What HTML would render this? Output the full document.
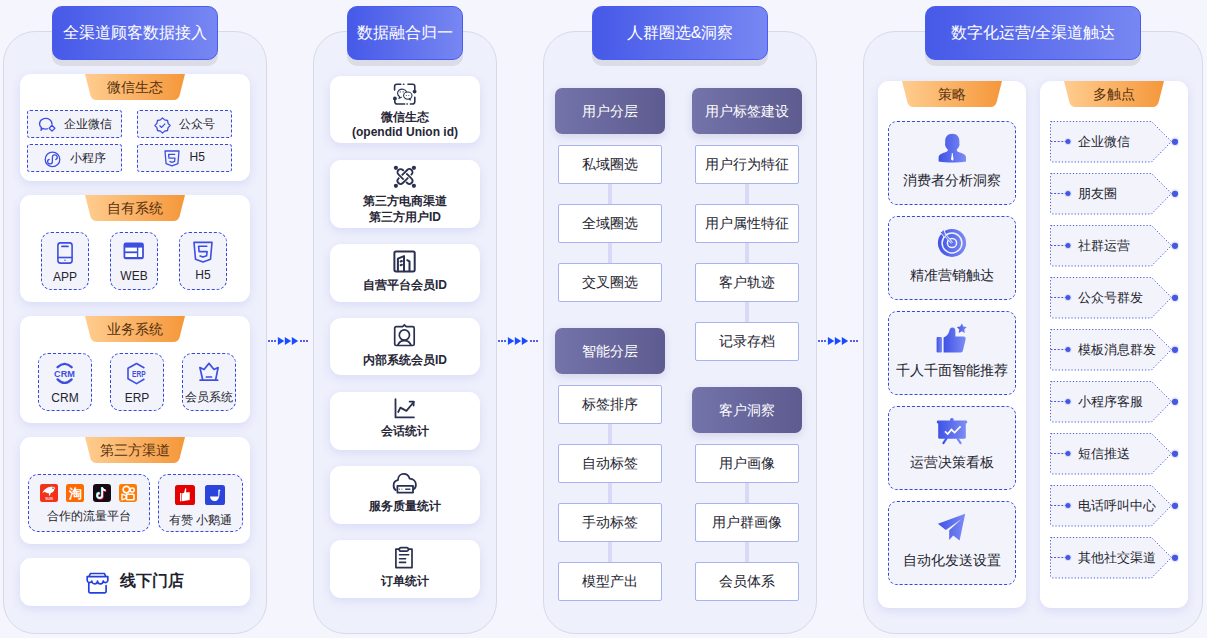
<!DOCTYPE html>
<html><head><meta charset="utf-8">
<style>
*{box-sizing:border-box;margin:0;padding:0}
html,body{width:1207px;height:638px;overflow:hidden;background:#f5f6fd;font-family:"Liberation Sans",sans-serif;color:#24242f}
.a{position:absolute}
.panel{position:absolute;top:31px;height:603px;background:#eef0fc;border:1px solid #d8d9e8;border-radius:32px}
.hdr{position:absolute;top:6px;height:54px;border-radius:10px;background:linear-gradient(90deg,#4659e8,#7787f2);border:1px solid #4a5cf0;box-shadow:0 6px 0 #dcdce7;color:#fff;font-size:16px;line-height:52px;text-align:center;white-space:nowrap}
.card{position:absolute;background:#fff;border-radius:11px;box-shadow:0 3px 10px rgba(190,195,240,.45)}
.tab{position:absolute;top:0;width:100px;height:26px;left:50%;margin-left:-50px}
.tab svg{position:absolute;left:0;top:0}
.tab span{position:absolute;left:0;right:0;top:0;line-height:26px;text-align:center;font-size:14px;color:#55300f}
.dbox{position:absolute;background:#f3f4fb;border:1px dashed #3446e4;border-radius:3px}
.ibox{position:absolute;background:#f3f4fb;border:1px dashed #3446e4;border-radius:10px}
.t12{font-size:12px}
.t13{font-size:13px}
.t14{font-size:14px}
.wb{position:absolute;background:#fff;border:1px solid #a8b3f0;border-radius:2px;height:39px;width:104px;line-height:37px;text-align:center;font-size:14px;color:#24242f}
.pb{position:absolute;height:46px;width:110px;border-radius:7px;background:linear-gradient(90deg,#7473aa,#5d5b8f);color:#fff;font-size:14px;line-height:46px;text-align:center;box-shadow:0 3px 8px rgba(100,100,160,.18)}
.vc{position:absolute;width:4px;background:#d7d9f6}
.c2{position:absolute;left:330px;width:150px;background:#fff;border-radius:11px;box-shadow:0 3px 10px rgba(190,195,240,.45);text-align:center;font-weight:bold;font-size:12px;color:#24242f}
.sbox{position:absolute;left:888px;width:128px;height:84px;background:#f3f4fb;border:1px dashed #3446e4;border-radius:9px;text-align:center;font-size:14px;color:#24242f}
.tag{position:absolute;left:1049px;width:130px;height:42px}
.tag svg{position:absolute;left:0;top:0}
.tag span{position:absolute;left:29px;top:0;line-height:42px;font-size:13px;color:#24242f;white-space:nowrap}
</style></head><body>

<!-- panels -->
<div class="panel" style="left:3px;width:264px"></div>
<div class="panel" style="left:313px;width:184px"></div>
<div class="panel" style="left:543px;width:274px"></div>
<div class="panel" style="left:863px;width:340px"></div>

<!-- headers -->
<div class="hdr" style="left:52px;width:166px">全渠道顾客数据接入</div>
<div class="hdr" style="left:347px;width:116px">数据融合归一</div>
<div class="hdr" style="left:592px;width:176px">人群圈选&amp;洞察</div>
<div class="hdr" style="left:925px;width:216px">数字化运营/全渠道触达</div>


<!-- col1 -->
<div class="card" style="left:20px;top:74px;width:230px;height:107px"><div class="tab"><svg width="100" height="26"><defs><linearGradient id="tg1" x1="0" x2="1"><stop offset="0" stop-color="#ffcd90"/><stop offset="1" stop-color="#f5973a"/></linearGradient></defs><path d="M0,0H100L94.6,21.2Q93.3,26 88.5,26H11.5Q6.7,26 5.4,21.2Z" fill="url(#tg1)"/></svg><span>微信生态</span></div></div>
<div class="card" style="left:20px;top:195px;width:230px;height:107px"><div class="tab"><svg width="100" height="26"><defs><linearGradient id="tg2" x1="0" x2="1"><stop offset="0" stop-color="#ffcd90"/><stop offset="1" stop-color="#f5973a"/></linearGradient></defs><path d="M0,0H100L94.6,21.2Q93.3,26 88.5,26H11.5Q6.7,26 5.4,21.2Z" fill="url(#tg2)"/></svg><span>自有系统</span></div></div>
<div class="card" style="left:20px;top:316px;width:230px;height:107px"><div class="tab"><svg width="100" height="26"><defs><linearGradient id="tg3" x1="0" x2="1"><stop offset="0" stop-color="#ffcd90"/><stop offset="1" stop-color="#f5973a"/></linearGradient></defs><path d="M0,0H100L94.6,21.2Q93.3,26 88.5,26H11.5Q6.7,26 5.4,21.2Z" fill="url(#tg3)"/></svg><span>业务系统</span></div></div>
<div class="card" style="left:20px;top:437px;width:230px;height:107px"><div class="tab"><svg width="100" height="26"><defs><linearGradient id="tg4" x1="0" x2="1"><stop offset="0" stop-color="#ffcd90"/><stop offset="1" stop-color="#f5973a"/></linearGradient></defs><path d="M0,0H100L94.6,21.2Q93.3,26 88.5,26H11.5Q6.7,26 5.4,21.2Z" fill="url(#tg4)"/></svg><span>第三方渠道</span></div></div>
<div class="card" style="left:20px;top:558px;width:230px;height:48px"></div>

<div class="dbox" style="left:27px;top:110px;width:95px;height:28px"></div>
<div class="dbox" style="left:137px;top:110px;width:95px;height:28px"></div>
<div class="dbox" style="left:27px;top:144px;width:95px;height:28px"></div>
<div class="dbox" style="left:137px;top:144px;width:95px;height:28px"></div>
<div class="a t12" style="left:64px;top:115px;line-height:18px">企业微信</div>
<div class="a t12" style="left:179px;top:115px;line-height:18px">公众号</div>
<div class="a t12" style="left:70px;top:149px;line-height:18px">小程序</div>
<div class="a t12" style="left:189.5px;top:148px;line-height:18px">H5</div>

<div class="ibox" style="left:41px;top:232px;width:48px;height:58px"></div>
<div class="ibox" style="left:110px;top:232px;width:48px;height:58px"></div>
<div class="ibox" style="left:179px;top:232px;width:48px;height:58px"></div>
<div class="a t12" style="left:41px;width:48px;top:269px;text-align:center;line-height:16px">APP</div>
<div class="a t12" style="left:110px;width:48px;top:268px;text-align:center;line-height:16px">WEB</div>
<div class="a t12" style="left:179px;width:48px;top:267px;text-align:center;line-height:16px">H5</div>

<div class="ibox" style="left:38px;top:353px;width:54px;height:58px"></div>
<div class="ibox" style="left:110px;top:353px;width:54px;height:58px"></div>
<div class="ibox" style="left:182px;top:353px;width:54px;height:58px"></div>
<div class="a t12" style="left:38px;width:54px;top:390px;text-align:center;line-height:16px">CRM</div>
<div class="a t12" style="left:110px;width:54px;top:390px;text-align:center;line-height:16px">ERP</div>
<div class="a t12" style="left:182px;width:54px;top:389px;text-align:center;line-height:16px">会员系统</div>

<div class="ibox" style="left:28px;top:474px;width:122px;height:58px"></div>
<div class="ibox" style="left:158px;top:474px;width:85px;height:58px"></div>
<div class="a t12" style="left:28px;width:122px;top:508px;text-align:center;line-height:16px">合作的流量平台</div>
<div class="a t12" style="left:158px;width:85px;top:512px;text-align:center;line-height:16px">有赞 小鹅通</div>

<div class="a" style="left:120px;top:570px;font-size:16px;font-weight:bold;line-height:22px;color:#1f1f30">线下门店</div>


<!-- col1 icons -->
<svg class="a" style="left:38px;top:117px" width="19" height="16" viewBox="0 0 19 16" fill="none" stroke="#3d4fe0" stroke-width="1.3" stroke-linejoin="round">
<path d="M13.86,7.67A6.2,5.3 0 1 0 3.37,10.5L3,13.3L4.65,11.34A6.2,5.3 0 0 0 9.87,11.73"/>
<path d="M14,8.3L16.9,11.2L14,14.1L11.1,11.2Z"/></svg>
<svg class="a" style="left:153.5px;top:116.5px" width="17" height="17" viewBox="0 0 17 17" fill="none" stroke="#3d4fe0" stroke-width="1.3" stroke-linejoin="round">
<path d="M8.5,0.9L10.6,2.9L13.5,3.5L14.1,6.4L16.1,8.5L14.1,10.6L13.5,13.5L10.6,14.1L8.5,16.1L6.4,14.1L3.5,13.5L2.9,10.6L0.9,8.5L2.9,6.4L3.5,3.5L6.4,2.9Z"/>
<path d="M5.5,8.6L7.6,10.4L11.2,6.6"/></svg>
<svg class="a" style="left:44px;top:150.5px" width="17" height="17" viewBox="0 0 17 17" fill="none" stroke="#3d4fe0" stroke-width="1.3">
<circle cx="8.5" cy="8.4" r="7.3"/>
<path d="M11.8,8.47A2.4,2.4 0 1 0 8.4,6.3V10.5A2.4,2.4 0 1 1 5.19,8.33" stroke-linecap="round"/></svg>
<svg class="a" style="left:163.5px;top:150px" width="16" height="17" viewBox="0 0 16 17" fill="none" stroke="#3d4fe0" stroke-width="1.3" stroke-linejoin="round">
<path d="M1,1H15L13.9,13.7L8,15.9L2.1,13.7Z"/>
<path d="M11.2,4.3H4.6L5,8.2H11L10.6,11.4L8,12.4L5.4,11.4"/></svg>

<svg class="a" style="left:57px;top:241.5px" width="16" height="22" viewBox="0 0 16 22" fill="none" stroke="#3d4fe0" stroke-width="1.6">
<rect x="0.9" y="0.9" width="14.2" height="20.2" rx="2.6"/>
<path d="M0.9,15.5H15.1"/><path d="M5,4.4H10.9" stroke-width="1.8" stroke-linecap="round"/>
<circle cx="8" cy="18.2" r="0.7" fill="#3d4fe0" stroke="none"/></svg>
<svg class="a" style="left:123px;top:241.5px" width="21" height="18" viewBox="0 0 21 18">
<rect x="0.5" y="0.5" width="20.4" height="16.8" rx="2.4" fill="#3d4fe0"/>
<rect x="2.3" y="5.6" width="11.6" height="3.8" fill="#fff"/>
<rect x="2.3" y="11.2" width="11.6" height="3.8" fill="#fff"/>
<rect x="15.3" y="5.6" width="3.8" height="9.4" fill="#fff"/></svg>
<svg class="a" style="left:192.5px;top:241px" width="20" height="22" viewBox="0 0 20 22" fill="none" stroke="#3d4fe0" stroke-width="1.6" stroke-linejoin="round">
<path d="M1,1.4H19L17.5,18.2L10,21L2.5,18.2Z"/>
<path d="M14.4,5.3H5.6L6.1,10.6H14.1L13.6,14.8L10,16.1L6.5,14.8"/></svg>

<svg class="a" style="left:53px;top:362px" width="24" height="23" viewBox="0 0 24 23">
<path d="M4.6,5.2Q11.6,-1.4 18.6,5.2" fill="none" stroke="#3d4fe0" stroke-width="2.3" stroke-linecap="round"/>
<path d="M4.6,17.4Q11.6,24.4 18.6,17.4" fill="none" stroke="#3d4fe0" stroke-width="2.3" stroke-linecap="round"/>
<text x="11.5" y="15.1" text-anchor="middle" font-family="Liberation Sans" font-weight="bold" font-size="9.5" fill="#3d4fe0" textLength="20.8" lengthAdjust="spacingAndGlyphs">CRM</text></svg>
<svg class="a" style="left:126px;top:362px" width="22" height="23" viewBox="0 0 22 23" fill="none" stroke="#3d4fe0" stroke-width="1.6" stroke-linejoin="round">
<path d="M18.4,6L10.6,1.5L2,6.3V16.8L10.6,21.6L18.4,17"/>
<text x="6" y="15" font-family="Liberation Sans" font-weight="bold" font-size="8.6" fill="#3d4fe0" stroke="none" textLength="13.6" lengthAdjust="spacingAndGlyphs">ERP</text></svg>
<svg class="a" style="left:198px;top:362px" width="22" height="20" viewBox="0 0 22 20" fill="none" stroke="#3d4fe0" stroke-width="1.7" stroke-linejoin="round" stroke-linecap="round">
<path d="M4.6,17.2L1.9,5.6L6,7.5L11,1.4L16,7.5L20.1,5.6L17.8,17.2"/>
<path d="M2.1,18.2H19.7"/><path d="M8.4,15H13.5"/></svg>

<svg class="a" style="left:40px;top:484px" width="18" height="18" viewBox="0 0 18 18">
<rect width="18" height="18" rx="2.2" fill="#f2331a"/>
<path d="M2.4,9C3.4,6.4 6.6,3.4 10.6,2.8C12.8,2.5 14.4,2.8 15.2,3.9L14.4,5C14.2,7.2 12.8,8.6 10.6,9.2L10,11.6H8.8L9.2,9.4C7.2,9.4 5.4,8.6 4.6,7.8C3.6,8.4 3,8.8 2.4,9Z" fill="#fff"/>
<circle cx="13" cy="4.3" r="1" fill="#8a8f98"/>
<text x="9" y="15.6" text-anchor="middle" font-family="Liberation Sans" font-weight="bold" font-size="3.6" fill="#fff" opacity=".85">SUN</text></svg>
<svg class="a" style="left:66px;top:484px" width="18" height="18" viewBox="0 0 18 18">
<rect width="18" height="18" rx="2.6" fill="#ff6a00"/>
<text x="9" y="14.2" text-anchor="middle" font-size="13" font-weight="bold" fill="#fff">淘</text></svg>
<svg class="a" style="left:93px;top:484px" width="18" height="18" viewBox="0 0 18 18">
<rect width="18" height="18" rx="3" fill="#170a15"/>
<path d="M9.2,3.5V11.6A2.5,2.5 0 1 1 6.7,9.1" fill="none" stroke="#ff2b55" stroke-width="1.8" transform="translate(0.6,0.6)"/>
<path d="M9.2,3.5C9.5,5 10.6,6.2 12.6,6.4" fill="none" stroke="#ff2b55" stroke-width="1.8" transform="translate(0.6,0.6)"/>
<path d="M9.2,3.5V11.6A2.5,2.5 0 1 1 6.7,9.1" fill="none" stroke="#25f4ee" stroke-width="1.8" transform="translate(-0.4,-0.4)"/>
<path d="M9.2,3.5V11.6A2.5,2.5 0 1 1 6.7,9.1" fill="none" stroke="#fff" stroke-width="1.6"/>
<path d="M9.2,3.5C9.5,5 10.6,6.2 12.6,6.4" fill="none" stroke="#fff" stroke-width="1.6"/></svg>
<svg class="a" style="left:119px;top:484px" width="18" height="18" viewBox="0 0 18 18">
<rect width="18" height="18" rx="2.4" fill="#ff7a00"/>
<circle cx="7.4" cy="5.6" r="3.3" fill="none" stroke="#fff" stroke-width="1.7"/>
<circle cx="13.2" cy="6" r="2" fill="none" stroke="#fff" stroke-width="1.5"/>
<rect x="7.6" y="10.2" width="7.4" height="5.6" rx="0.8" fill="none" stroke="#fff" stroke-width="1.6"/>
<path d="M7,11.6L3,10.2V15.8L7,14.4Z" fill="none" stroke="#fff" stroke-width="1.4" stroke-linejoin="round"/></svg>

<svg class="a" style="left:175px;top:485px" width="20" height="20" viewBox="0 0 20 20">
<rect width="20" height="20" rx="2.6" fill="#e60000"/>
<path d="M5,8H6.4V16.2H5Z" fill="#fff"/>
<path d="M7,8.4L9.2,7.5L10.1,3.5C10.4,3 11.3,3 11.3,4L11,7.3H14.8L14.7,15.1L7,16.2Z" fill="#fff"/></svg>
<svg class="a" style="left:205px;top:485px" width="20" height="20" viewBox="0 0 20 20">
<rect width="20" height="20" rx="2.6" fill="#2a44dc"/>
<path d="M5,11.4H13.3V5.4C13.3,4.6 14,4 14.9,4.9L15.7,5.8L14.6,5.9C14.6,11 14,16 9.5,16C7,16 5.2,14 5,11.4Z" fill="#fff"/></svg>

<svg class="a" style="left:85.5px;top:572px" width="23" height="22" viewBox="0 0 23 22" fill="none" stroke="#2640e0" stroke-width="1.7" stroke-linejoin="round" stroke-linecap="round">
<path d="M3.2,4.2L4.4,1.5H18.4L19.6,4.2"/>
<path d="M1.2,4.6H21.8V8.6A2.4,2.4 0 0 1 17.2,9A2.4,2.4 0 0 1 11.5,9A2.4,2.4 0 0 1 5.8,9A2.4,2.4 0 0 1 1.2,8.6Z"/>
<path d="M2.8,11.2V19.6A1.2,1.2 0 0 0 4,20.8H18.9A1.2,1.2 0 0 0 20.1,19.6V13.6"/></svg>


<!-- col2 -->
<div class="c2" style="top:76px;height:67px"></div>
<div class="c2" style="top:160px;height:68px"></div>
<div class="c2" style="top:244px;height:58px"></div>
<div class="c2" style="top:318px;height:57px"></div>
<div class="c2" style="top:392px;height:58px"></div>
<div class="c2" style="top:466px;height:58px"></div>
<div class="c2" style="top:540px;height:58px"></div>
<div class="a" style="left:330px;width:150px;top:110px;text-align:center;font-weight:bold;font-size:12px;line-height:14.5px;color:#262636">微信生态<br>(opendid Union id)</div>
<div class="a" style="left:330px;width:150px;top:193px;text-align:center;font-weight:bold;font-size:12px;line-height:16px;color:#262636">第三方电商渠道<br>第三方用户ID</div>
<div class="a" style="left:330px;width:150px;top:277px;text-align:center;font-weight:bold;font-size:12px;line-height:16px;color:#262636">自营平台会员ID</div>
<div class="a" style="left:330px;width:150px;top:352px;text-align:center;font-weight:bold;font-size:12px;line-height:16px;color:#262636">内部系统会员ID</div>
<div class="a" style="left:330px;width:150px;top:423px;text-align:center;font-weight:bold;font-size:12px;line-height:16px;color:#262636">会话统计</div>
<div class="a" style="left:330px;width:150px;top:498px;text-align:center;font-weight:bold;font-size:12px;line-height:16px;color:#262636">服务质量统计</div>
<div class="a" style="left:330px;width:150px;top:573px;text-align:center;font-weight:bold;font-size:12px;line-height:16px;color:#262636">订单统计</div>

<svg class="a" style="left:392px;top:82px" width="26" height="24" viewBox="0 0 26 24" fill="none" stroke="#293050" stroke-width="1.6" stroke-linecap="round">
<path d="M2.6,8V4.4A2.2,2.2 0 0 1 4.8,2.2H8.8"/><path d="M11.5,2.2H11.8"/>
<path d="M16,2.2H20.6A2.2,2.2 0 0 1 22.8,4.4V7.5"/>
<path d="M22.8,15.2V19.8A2.2,2.2 0 0 1 20.6,22H18.4"/><path d="M15,22H15.3"/>
<path d="M12.6,22H5A2.2,2.2 0 0 1 2.8,19.8V17.2"/>
<circle cx="22.6" cy="9.6" r="1.9" fill="#293050" stroke="none"/><circle cx="2.9" cy="16.4" r="1.9" fill="#293050" stroke="none"/>
<path d="M14.4,9.6A4.6,4.1 0 1 0 7.6,14.6L7.1,16.3L9.4,15.3" stroke-width="1.1"/>
<ellipse cx="15.8" cy="13.6" rx="4.2" ry="3.6" stroke-width="1.1"/>
<path d="M17.3,17L18.6,18" stroke-width="1.1"/>
<circle cx="8.2" cy="9.9" r="0.6" fill="#293050" stroke="none"/><circle cx="11.2" cy="9.9" r="0.6" fill="#293050" stroke="none"/>
<circle cx="14.3" cy="13.4" r="0.5" fill="#293050" stroke="none"/><circle cx="16.9" cy="13.4" r="0.5" fill="#293050" stroke="none"/></svg>

<svg class="a" style="left:393px;top:165px" width="24" height="24" viewBox="0 0 24 24" fill="none" stroke="#293050" stroke-width="1.8" stroke-linecap="butt">
<circle cx="2.9" cy="2.8" r="2.1" fill="#293050" stroke="none"/><circle cx="20.9" cy="2.8" r="2.1" fill="#293050" stroke="none"/>
<circle cx="2.9" cy="20.8" r="2.1" fill="#293050" stroke="none"/><circle cx="20.9" cy="20.8" r="2.1" fill="#293050" stroke="none"/>
<path d="M9.8,5L18.6,13.6A3.1,3.1 0 0 1 14.2,18L5.4,9.4A3.1,3.1 0 0 1 9.8,5Z" stroke-dasharray="1.4 3.5 18.4 3.5 17.3 0"/>
<path d="M14.2,5L5.4,13.6A3.1,3.1 0 0 0 9.8,18L18.6,9.4A3.1,3.1 0 0 0 14.2,5Z" stroke-dasharray="7.6 3.5 18.4 3.5 11.1 0"/></svg>

<svg class="a" style="left:393px;top:249.5px" width="23" height="23" viewBox="0 0 23 23" fill="none" stroke="#293050" stroke-width="2" stroke-linejoin="round" stroke-linecap="round">
<rect x="1.4" y="1.4" width="20.3" height="20" rx="1.6"/>
<path d="M4.9,21.2V8.6L11,6.1V21.2"/><path d="M14.2,10.2L16.5,11.4V21.2"/>
<path d="M7.6,11.5L8.9,11"/><path d="M7.6,15.2L8.9,14.7"/></svg>

<svg class="a" style="left:393px;top:324px" width="23" height="23" viewBox="0 0 23 23" fill="none" stroke="#293050" stroke-width="1.7" stroke-linejoin="round">
<path d="M9.6,2.6H3.3A1.6,1.6 0 0 0 1.7,4.2V19.9A1.6,1.6 0 0 0 3.3,21.5H19.6A1.6,1.6 0 0 0 21.2,19.9V4.2A1.6,1.6 0 0 0 19.6,2.6H13.3L11.4,1Z"/>
<circle cx="11.4" cy="11" r="5.1"/><path d="M4.7,21.4C5.8,18.4 8.4,16.6 11.4,16.6C14.4,16.6 17,18.4 18.1,21.4"/></svg>

<svg class="a" style="left:393px;top:397px" width="23" height="23" viewBox="0 0 23 23" fill="none" stroke="#293050" stroke-width="1.8" stroke-linecap="round" stroke-linejoin="round">
<path d="M2.5,2.2V20.4H20.9"/><path d="M5.2,15L7.4,10.6L13.4,13.9L20.8,5"/><path d="M16.6,4.6H20.6V8.6"/></svg>

<svg class="a" style="left:392px;top:472px" width="26" height="23" viewBox="0 0 26 23" fill="none" stroke="#293050" stroke-width="1.8" stroke-linejoin="round">
<path d="M4.4,18.3C2.3,17.5 1.6,15.4 1.6,13.4C1.6,10.5 3.4,8.5 5.9,8.1C6.1,4.3 8.5,1.9 11.6,1.9C14.6,1.9 16.8,3.8 17.6,6.6C21.2,6.8 23.9,9.4 23.9,12.8C23.9,14.8 23,16.6 21.4,17.6"/>
<rect x="5.4" y="13.8" width="15.6" height="6.8" fill="#fff"/>
<path d="M7.2,17.2H7.8M9.6,17.2H10.2" stroke-width="1.4"/><path d="M13.2,17.2H18.4" stroke-width="1.4"/></svg>

<svg class="a" style="left:394px;top:546px" width="20" height="24" viewBox="0 0 20 24" fill="none" stroke="#293050" stroke-width="1.7" stroke-linejoin="round" stroke-linecap="round">
<path d="M5,3.2H1.9V21.6H18V3.2H14.7"/><rect x="5.3" y="1.6" width="9.1" height="3.6" rx="1.8"/>
<path d="M5.5,8.8H14.7M5.5,12.7H11.6M5.5,16.4H11.6" stroke-width="1.6"/></svg>


<!-- col3 -->
<div class="vc" style="left:608px;top:183px;height:22px"></div>
<div class="vc" style="left:608px;top:242px;height:22px"></div>
<div class="vc" style="left:608px;top:423px;height:22px"></div>
<div class="vc" style="left:608px;top:482px;height:22px"></div>
<div class="vc" style="left:608px;top:541px;height:22px"></div>
<div class="vc" style="left:745px;top:183px;height:22px"></div>
<div class="vc" style="left:745px;top:242px;height:22px"></div>
<div class="vc" style="left:745px;top:301px;height:22px"></div>
<div class="vc" style="left:745px;top:482px;height:22px"></div>
<div class="vc" style="left:745px;top:541px;height:22px"></div>

<div class="pb" style="left:555px;top:88px">用户分层</div>
<div class="pb" style="left:692px;top:88px">用户标签建设</div>
<div class="pb" style="left:555px;top:328px">智能分层</div>
<div class="pb" style="left:692px;top:387px">客户洞察</div>

<div class="wb" style="left:558px;top:145px">私域圈选</div>
<div class="wb" style="left:558px;top:204px">全域圈选</div>
<div class="wb" style="left:558px;top:263px">交叉圈选</div>
<div class="wb" style="left:558px;top:385px">标签排序</div>
<div class="wb" style="left:558px;top:444px">自动标签</div>
<div class="wb" style="left:558px;top:503px">手动标签</div>
<div class="wb" style="left:558px;top:562px">模型产出</div>
<div class="wb" style="left:695px;top:145px">用户行为特征</div>
<div class="wb" style="left:695px;top:204px">用户属性特征</div>
<div class="wb" style="left:695px;top:263px">客户轨迹</div>
<div class="wb" style="left:695px;top:322px">记录存档</div>
<div class="wb" style="left:695px;top:444px">用户画像</div>
<div class="wb" style="left:695px;top:503px">用户群画像</div>
<div class="wb" style="left:695px;top:562px">会员体系</div>

<!-- arrows -->
<svg class="a" style="left:266px;top:336px" width="46" height="10" viewBox="0 0 46 10">
<g fill="#5a5fe8"><rect x="2" y="4" width="2" height="2"/><rect x="5" y="4" width="2" height="2"/><rect x="8" y="4" width="2" height="2"/>
<rect x="34" y="4" width="2" height="2"/><rect x="37" y="4" width="2" height="2"/><rect x="40" y="4" width="2" height="2"/></g>
<g fill="#1a4cff"><path d="M11.9,1.1L18.3,5L11.9,8.9Z"/><path d="M18.8,1.1L25.2,5L18.8,8.9Z"/><path d="M25.8,1.1L32.2,5L25.8,8.9Z"/></g></svg>
<svg class="a" style="left:496px;top:336px" width="46" height="10" viewBox="0 0 46 10">
<g fill="#5a5fe8"><rect x="2" y="4" width="2" height="2"/><rect x="5" y="4" width="2" height="2"/><rect x="8" y="4" width="2" height="2"/>
<rect x="34" y="4" width="2" height="2"/><rect x="37" y="4" width="2" height="2"/><rect x="40" y="4" width="2" height="2"/></g>
<g fill="#1a4cff"><path d="M11.9,1.1L18.3,5L11.9,8.9Z"/><path d="M18.8,1.1L25.2,5L18.8,8.9Z"/><path d="M25.8,1.1L32.2,5L25.8,8.9Z"/></g></svg>
<svg class="a" style="left:816px;top:336px" width="46" height="10" viewBox="0 0 46 10">
<g fill="#5a5fe8"><rect x="2" y="4" width="2" height="2"/><rect x="5" y="4" width="2" height="2"/><rect x="8" y="4" width="2" height="2"/>
<rect x="34" y="4" width="2" height="2"/><rect x="37" y="4" width="2" height="2"/><rect x="40" y="4" width="2" height="2"/></g>
<g fill="#1a4cff"><path d="M11.9,1.1L18.3,5L11.9,8.9Z"/><path d="M18.8,1.1L25.2,5L18.8,8.9Z"/><path d="M25.8,1.1L32.2,5L25.8,8.9Z"/></g></svg>


<!-- col4 -->
<div class="card" style="left:878px;top:81px;width:148px;height:527px"><div class="tab"><svg width="100" height="26"><defs><linearGradient id="tg5" x1="0" x2="1"><stop offset="0" stop-color="#ffcd90"/><stop offset="1" stop-color="#f5973a"/></linearGradient></defs><path d="M0,0H100L94.6,21.2Q93.3,26 88.5,26H11.5Q6.7,26 5.4,21.2Z" fill="url(#tg5)"/></svg><span>策略</span></div></div>
<div class="card" style="left:1040px;top:81px;width:148px;height:527px"><div class="tab"><svg width="100" height="26"><defs><linearGradient id="tg6" x1="0" x2="1"><stop offset="0" stop-color="#ffcd90"/><stop offset="1" stop-color="#f5973a"/></linearGradient></defs><path d="M0,0H100L94.6,21.2Q93.3,26 88.5,26H11.5Q6.7,26 5.4,21.2Z" fill="url(#tg6)"/></svg><span>多触点</span></div></div>
<div class="sbox" style="top:121px"><div style="position:absolute;left:0;right:0;top:50px;line-height:16px">消费者分析洞察</div></div>
<div class="sbox" style="top:216px"><div style="position:absolute;left:0;right:0;top:50px;line-height:16px">精准营销触达</div></div>
<div class="sbox" style="top:311px"><div style="position:absolute;left:0;right:0;top:50px;line-height:16px">千人千面智能推荐</div></div>
<div class="sbox" style="top:406px"><div style="position:absolute;left:0;right:0;top:47px;line-height:16px">运营决策看板</div></div>
<div class="sbox" style="top:501px"><div style="position:absolute;left:0;right:0;top:50px;line-height:16px">自动化发送设置</div></div>
<div class="tag" style="top:121px"><svg width="130" height="42" viewBox="0 0 130 42"><path d="M1.5,0.5H102.5L122.5,20.5L102.5,41H3.5A2,2 0 0 1 1.5,39V2.5A2,2 0 0 1 3.5,0.5Z" fill="#f3f4fb" stroke="#4558e0" stroke-width="1" stroke-dasharray="1.2 2"/>
<path d="M1.5,20.5H17" stroke="#4558e0" stroke-width="1" stroke-dasharray="2 1.6"/>
<circle cx="19" cy="20.5" r="3.6" fill="#4558e0" opacity=".15"/><circle cx="19" cy="20.5" r="2.5" fill="#4558e0"/>
<circle cx="126" cy="20.8" r="4.8" fill="#4558e0" opacity=".12"/><circle cx="126" cy="20.8" r="3.1" fill="#4558e0"/></svg><span>企业微信</span></div>
<div class="tag" style="top:173px"><svg width="130" height="42" viewBox="0 0 130 42"><path d="M1.5,0.5H102.5L122.5,20.5L102.5,41H3.5A2,2 0 0 1 1.5,39V2.5A2,2 0 0 1 3.5,0.5Z" fill="#f3f4fb" stroke="#4558e0" stroke-width="1" stroke-dasharray="1.2 2"/>
<path d="M1.5,20.5H17" stroke="#4558e0" stroke-width="1" stroke-dasharray="2 1.6"/>
<circle cx="19" cy="20.5" r="3.6" fill="#4558e0" opacity=".15"/><circle cx="19" cy="20.5" r="2.5" fill="#4558e0"/>
<circle cx="126" cy="20.8" r="4.8" fill="#4558e0" opacity=".12"/><circle cx="126" cy="20.8" r="3.1" fill="#4558e0"/></svg><span>朋友圈</span></div>
<div class="tag" style="top:225px"><svg width="130" height="42" viewBox="0 0 130 42"><path d="M1.5,0.5H102.5L122.5,20.5L102.5,41H3.5A2,2 0 0 1 1.5,39V2.5A2,2 0 0 1 3.5,0.5Z" fill="#f3f4fb" stroke="#4558e0" stroke-width="1" stroke-dasharray="1.2 2"/>
<path d="M1.5,20.5H17" stroke="#4558e0" stroke-width="1" stroke-dasharray="2 1.6"/>
<circle cx="19" cy="20.5" r="3.6" fill="#4558e0" opacity=".15"/><circle cx="19" cy="20.5" r="2.5" fill="#4558e0"/>
<circle cx="126" cy="20.8" r="4.8" fill="#4558e0" opacity=".12"/><circle cx="126" cy="20.8" r="3.1" fill="#4558e0"/></svg><span>社群运营</span></div>
<div class="tag" style="top:277px"><svg width="130" height="42" viewBox="0 0 130 42"><path d="M1.5,0.5H102.5L122.5,20.5L102.5,41H3.5A2,2 0 0 1 1.5,39V2.5A2,2 0 0 1 3.5,0.5Z" fill="#f3f4fb" stroke="#4558e0" stroke-width="1" stroke-dasharray="1.2 2"/>
<path d="M1.5,20.5H17" stroke="#4558e0" stroke-width="1" stroke-dasharray="2 1.6"/>
<circle cx="19" cy="20.5" r="3.6" fill="#4558e0" opacity=".15"/><circle cx="19" cy="20.5" r="2.5" fill="#4558e0"/>
<circle cx="126" cy="20.8" r="4.8" fill="#4558e0" opacity=".12"/><circle cx="126" cy="20.8" r="3.1" fill="#4558e0"/></svg><span>公众号群发</span></div>
<div class="tag" style="top:329px"><svg width="130" height="42" viewBox="0 0 130 42"><path d="M1.5,0.5H102.5L122.5,20.5L102.5,41H3.5A2,2 0 0 1 1.5,39V2.5A2,2 0 0 1 3.5,0.5Z" fill="#f3f4fb" stroke="#4558e0" stroke-width="1" stroke-dasharray="1.2 2"/>
<path d="M1.5,20.5H17" stroke="#4558e0" stroke-width="1" stroke-dasharray="2 1.6"/>
<circle cx="19" cy="20.5" r="3.6" fill="#4558e0" opacity=".15"/><circle cx="19" cy="20.5" r="2.5" fill="#4558e0"/>
<circle cx="126" cy="20.8" r="4.8" fill="#4558e0" opacity=".12"/><circle cx="126" cy="20.8" r="3.1" fill="#4558e0"/></svg><span>模板消息群发</span></div>
<div class="tag" style="top:381px"><svg width="130" height="42" viewBox="0 0 130 42"><path d="M1.5,0.5H102.5L122.5,20.5L102.5,41H3.5A2,2 0 0 1 1.5,39V2.5A2,2 0 0 1 3.5,0.5Z" fill="#f3f4fb" stroke="#4558e0" stroke-width="1" stroke-dasharray="1.2 2"/>
<path d="M1.5,20.5H17" stroke="#4558e0" stroke-width="1" stroke-dasharray="2 1.6"/>
<circle cx="19" cy="20.5" r="3.6" fill="#4558e0" opacity=".15"/><circle cx="19" cy="20.5" r="2.5" fill="#4558e0"/>
<circle cx="126" cy="20.8" r="4.8" fill="#4558e0" opacity=".12"/><circle cx="126" cy="20.8" r="3.1" fill="#4558e0"/></svg><span>小程序客服</span></div>
<div class="tag" style="top:433px"><svg width="130" height="42" viewBox="0 0 130 42"><path d="M1.5,0.5H102.5L122.5,20.5L102.5,41H3.5A2,2 0 0 1 1.5,39V2.5A2,2 0 0 1 3.5,0.5Z" fill="#f3f4fb" stroke="#4558e0" stroke-width="1" stroke-dasharray="1.2 2"/>
<path d="M1.5,20.5H17" stroke="#4558e0" stroke-width="1" stroke-dasharray="2 1.6"/>
<circle cx="19" cy="20.5" r="3.6" fill="#4558e0" opacity=".15"/><circle cx="19" cy="20.5" r="2.5" fill="#4558e0"/>
<circle cx="126" cy="20.8" r="4.8" fill="#4558e0" opacity=".12"/><circle cx="126" cy="20.8" r="3.1" fill="#4558e0"/></svg><span>短信推送</span></div>
<div class="tag" style="top:485px"><svg width="130" height="42" viewBox="0 0 130 42"><path d="M1.5,0.5H102.5L122.5,20.5L102.5,41H3.5A2,2 0 0 1 1.5,39V2.5A2,2 0 0 1 3.5,0.5Z" fill="#f3f4fb" stroke="#4558e0" stroke-width="1" stroke-dasharray="1.2 2"/>
<path d="M1.5,20.5H17" stroke="#4558e0" stroke-width="1" stroke-dasharray="2 1.6"/>
<circle cx="19" cy="20.5" r="3.6" fill="#4558e0" opacity=".15"/><circle cx="19" cy="20.5" r="2.5" fill="#4558e0"/>
<circle cx="126" cy="20.8" r="4.8" fill="#4558e0" opacity=".12"/><circle cx="126" cy="20.8" r="3.1" fill="#4558e0"/></svg><span>电话呼叫中心</span></div>
<div class="tag" style="top:537px"><svg width="130" height="42" viewBox="0 0 130 42"><path d="M1.5,0.5H102.5L122.5,20.5L102.5,41H3.5A2,2 0 0 1 1.5,39V2.5A2,2 0 0 1 3.5,0.5Z" fill="#f3f4fb" stroke="#4558e0" stroke-width="1" stroke-dasharray="1.2 2"/>
<path d="M1.5,20.5H17" stroke="#4558e0" stroke-width="1" stroke-dasharray="2 1.6"/>
<circle cx="19" cy="20.5" r="3.6" fill="#4558e0" opacity=".15"/><circle cx="19" cy="20.5" r="2.5" fill="#4558e0"/>
<circle cx="126" cy="20.8" r="4.8" fill="#4558e0" opacity=".12"/><circle cx="126" cy="20.8" r="3.1" fill="#4558e0"/></svg><span>其他社交渠道</span></div>

<svg class="a" style="left:938px;top:133px" width="29" height="30" viewBox="0 0 29 30"><defs><linearGradient id="g1" x1="0" x2="1"><stop offset="0" stop-color="#3f52e6"/><stop offset="1" stop-color="#7d8cf4"/></linearGradient></defs>
<path d="M14.3,0.8C18.6,0.8 21.4,3.6 21.4,8C21.4,9.3 21.2,10.4 21.6,11.2C21.4,13.2 20.6,14.6 19.4,15.8L18.6,17.6C19,18.4 20,19 24.5,20.4C27,21.2 28,22.6 28,24.4V28.6C24,29.4 19.4,29.6 14.3,29.6C9.2,29.6 4.6,29.4 0.6,28.6V24.4C0.6,22.6 1.6,21.2 4.1,20.4C8.6,19 9.6,18.4 10,17.6L9.2,15.8C8,14.6 7.2,13.2 7,11.2C7.4,10.4 7.2,9.3 7.2,8C7.2,3.6 10,0.8 14.3,0.8Z" fill="url(#g1)"/>
<path d="M13.6,20.2H15L14.8,21.4L15.6,26.3L14.3,27.7L13,26.3L13.8,21.4Z" fill="#fff"/></svg>

<svg class="a" style="left:937px;top:228px" width="30" height="30" viewBox="0 0 30 30"><defs><linearGradient id="g2" x1="0" x2="1"><stop offset="0" stop-color="#3f52e6"/><stop offset="1" stop-color="#7d8cf4"/></linearGradient></defs>
<circle cx="15" cy="15" r="14.1" fill="url(#g2)"/>
<circle cx="15" cy="15" r="9.9" fill="none" stroke="#f3f4fb" stroke-width="1.5"/>
<circle cx="15" cy="15" r="4.6" fill="none" stroke="#f3f4fb" stroke-width="1.5"/>
<path d="M15,15L6.5,5.2" stroke="#f3f4fb" stroke-width="2.6"/>
<path d="M15,15L7.2,6" stroke="url(#g2)" stroke-width="1.1"/>
<path d="M3.4,4.5L6.6,1.6L9.2,7.4L7.2,9.2Z" fill="url(#g2)" stroke="#f3f4fb" stroke-width="1"/></svg>

<svg class="a" style="left:936px;top:323px" width="31" height="30" viewBox="0 0 31 30"><defs><linearGradient id="g3" x1="0" x2="1"><stop offset="0" stop-color="#3f52e6"/><stop offset="1" stop-color="#7d8cf4"/></linearGradient></defs>
<rect x="0.6" y="14" width="5.4" height="15.4" rx="1" fill="url(#g3)"/>
<path d="M7.6,14.4C10.4,13.6 12.2,11.4 13.2,8.6C13.6,5.8 14.6,4.6 16.4,4.6C18.4,4.6 19.4,6.2 19.4,8.4V13.6H27.6C29.2,13.6 30,14.8 29.6,16.4L26.8,28C26.4,29 25.8,29.4 24.8,29.4H7.6Z" fill="url(#g3)"/>
<path d="M25.8,0.4L27.4,3.6L30.8,4.1L28.3,6.5L28.9,9.9L25.8,8.3L22.7,9.9L23.3,6.5L20.8,4.1L24.2,3.6Z" fill="url(#g3)"/></svg>

<svg class="a" style="left:936px;top:417px" width="32" height="28" viewBox="0 0 32 28"><defs><linearGradient id="g4" x1="0" x2="1"><stop offset="0" stop-color="#3f52e6"/><stop offset="1" stop-color="#7d8cf4"/></linearGradient></defs>
<circle cx="16" cy="2.8" r="1.9" fill="url(#g4)"/>
<rect x="0.8" y="3.4" width="30.4" height="3.2" rx="1.4" fill="url(#g4)"/>
<rect x="2.2" y="5" width="27.6" height="16.8" rx="1.6" fill="url(#g4)"/>
<path d="M10.4,21.6L7.4,26.2M21.6,21.6L24.6,26.2" stroke="url(#g4)" stroke-width="2.2" stroke-linecap="round"/>
<path d="M9,14.3L11.7,17L15.4,12.6L18.6,15.6L24.6,9.4" fill="none" stroke="#fff" stroke-width="1.7" stroke-linejoin="miter"/></svg>

<svg class="a" style="left:937px;top:513px" width="29" height="29" viewBox="0 0 29 29"><defs><linearGradient id="g5" x1="0" x2="1"><stop offset="0" stop-color="#3f52e6"/><stop offset="1" stop-color="#7d8cf4"/></linearGradient></defs>
<path d="M0.9,10.7L28.2,0.8L22.6,27.5L16.2,22.5L12.2,26.9V17.2L24.6,6L8.8,17Z" fill="url(#g5)"/></svg>

</body></html>
